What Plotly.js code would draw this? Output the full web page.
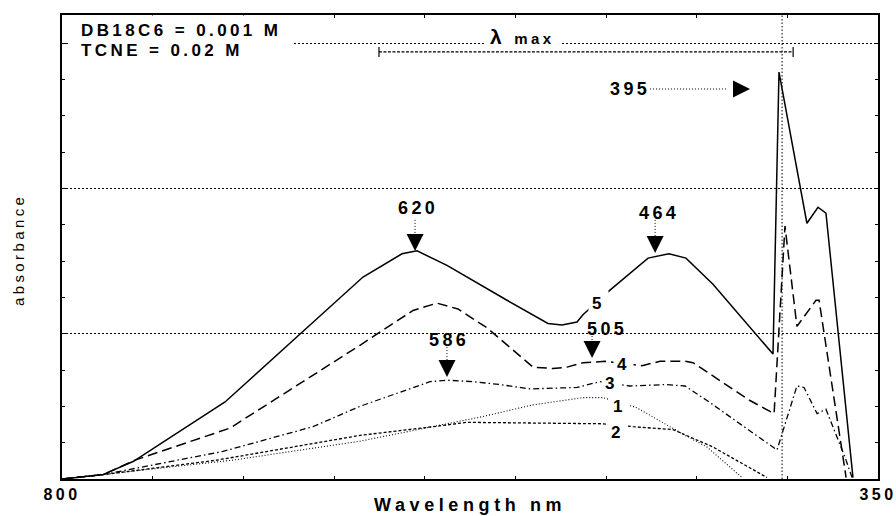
<!DOCTYPE html>
<html>
<head>
<meta charset="utf-8">
<script src="https://cdn.plot.ly/plotly-3.0.1.min.js"></script>
<style>
body{margin:0;background:#fff;}
svg text{letter-spacing:3.4px;}
</style>
</head>
<body>
<div id="chart" style="width:896px;height:516px;"></div>
<script>
// Wavelength (nm) and absorbance for the five spectra
var wl1 = [800, 777.4, 705.7, 635.7, 595.4, 567.8, 540.3, 512.7, 501.6, 482.9, 459.2, 444.3, 425.0];
var ab1 = [0, 0.03, 0.13, 0.26, 0.36, 0.43, 0.51, 0.56, 0.56, 0.49, 0.32, 0.22, 0.01];

var wl2 = [800, 777.4, 714.5, 635.7, 595.4, 576.7, 501.6, 485.1, 463.1, 441.0, 411.2];
var ab2 = [0, 0.03, 0.13, 0.30, 0.36, 0.39, 0.38, 0.36, 0.34, 0.22, 0.01];

var wl3 = [800, 777.4, 711.2, 661.6, 635.7, 597.1, 587.7, 573.3, 558.5, 541.9, 516.0, 503.3, 486.8, 466.4, 456.4, 444.3, 405.7, 394.7, 390.8, 383.6, 378.7, 368.2, 364.3];
var ab3 = [0, 0.03, 0.19, 0.36, 0.50, 0.67, 0.68, 0.67, 0.65, 0.62, 0.63, 0.67, 0.64, 0.65, 0.64, 0.54, 0.20, 0.64, 0.63, 0.45, 0.48, 0.15, 0.01];

var wl4 = [800, 777.4, 759.7, 707.4, 635.7, 606.4, 593.2, 581.6, 565.6, 540.3, 529.3, 521.5, 512.7, 500.5, 480.1, 470.2, 456.4, 452.0, 420.6, 407.3, 401.3, 394.7, 384.2, 382.5, 367.6];
var ab4 = [0, 0.03, 0.13, 0.35, 0.92, 1.16, 1.21, 1.17, 1.04, 0.77, 0.76, 0.77, 0.80, 0.81, 0.78, 0.81, 0.81, 0.80, 0.54, 0.45, 1.74, 1.05, 1.23, 1.23, 0.01];

var wl5 = [800, 777.4, 760.8, 710.1, 634.0, 612.5, 604.2, 587.7, 554.6, 532.0, 524.3, 516.0, 512.7, 497.8, 476.8, 465.3, 455.9, 441.0, 407.9, 404.6, 389.2, 383.1, 378.7, 363.8];
var ab5 = [0, 0.03, 0.12, 0.53, 1.39, 1.55, 1.57, 1.47, 1.23, 1.07, 1.06, 1.08, 1.13, 1.30, 1.52, 1.55, 1.52, 1.34, 0.86, 2.80, 1.76, 1.87, 1.83, 0.01];

var xTickVals = [800, 350];
var xTickText = ['800', '350'];
var curveLabels = ['1', '2', '3', '4', '5'];
var peakLabels = ['620', '464', '586', '505'];

var FONT = 'Liberation Sans, Arial, Helvetica, sans-serif';

function line(x, y, width, dash) {
  return {x: x, y: y, type: 'scatter', mode: 'lines', hoverinfo: 'skip', showlegend: false,
          line: {color: '#000', width: width, dash: dash}};
}
var data = [
  line(wl1, ab1, 1.1, '1px,2px'),
  line(wl2, ab2, 1.3, '3px,2px'),
  line(wl3, ab3, 1.3, '6px,3px,1.5px,3px'),
  line(wl4, ab4, 1.5, '10px,5px'),
  line(wl5, ab5, 1.5, 'solid')
];

// positions of annotation items (label centres, arrow tips)
var curveLabelPos = [[492.3, 0.496], [493.9, 0.317], [496.7, 0.654], [490.1, 0.791], [504.4, 1.211]];
var peakLabelPos = [[603.7, 1.865], [470.8, 1.831], [586.6, 0.957], [499.4, 1.032]];
var peakTips = [[605.3, 1.569], [472.9, 1.555], [587.7, 0.702], [507.7, 0.833]];
var stemTop = [1.783, 1.783, 0.908, 1.005];
var stemBot = [1.670, 1.660, 0.810, 0.930];

var annotations = [];
var shapes = [];

curveLabels.forEach(function (t, i) {
  annotations.push({x: curveLabelPos[i][0], y: curveLabelPos[i][1], xref: 'x', yref: 'y', text: t,
    showarrow: false, bgcolor: '#fff', borderpad: 3,
    font: {family: FONT, size: 17, color: '#000', weight: 'bold'}});
});
peakLabels.forEach(function (t, i) {
  annotations.push({x: peakLabelPos[i][0], y: peakLabelPos[i][1], xref: 'x', yref: 'y', text: t,
    showarrow: false, font: {family: FONT, size: 18, color: '#000', weight: 'bold'}});
  shapes.push({type: 'line', xref: 'x', yref: 'y', x0: peakTips[i][0], x1: peakTips[i][0],
    y0: stemTop[i], y1: stemBot[i], line: {color: '#000', width: 1, dash: '1px,2px'}});
  annotations.push({x: peakTips[i][0], y: peakTips[i][1], xref: 'x', yref: 'y', text: '',
    showarrow: true, arrowhead: 2, arrowsize: 3.4, arrowwidth: 1, arrowcolor: '#000', ax: 0, ay: -10});
});

// 395 label and horizontal arrow
annotations.push({x: 486.8, y: 2.684, xref: 'x', yref: 'y', text: '395', showarrow: false,
  font: {family: FONT, size: 18, color: '#000', weight: 'bold'}});
shapes.push({type: 'line', xref: 'x', yref: 'y', x0: 475.7, x1: 433.3, y0: 2.684, y1: 2.684,
  line: {color: '#000', width: 1, dash: '1px,2px'}});
annotations.push({x: 420.6, y: 2.684, xref: 'x', yref: 'y', text: '', showarrow: true,
  arrowhead: 2, arrowsize: 3.4, arrowwidth: 1, arrowcolor: '#000', ax: -10, ay: 0});

// lambda max marker
shapes.push({type: 'rect', xref: 'x', yref: 'y', x0: 566.7, x1: 525.4, y0: 2.98, y1: 3.021,
  fillcolor: '#fff', line: {width: 0}, layer: 'above'});
annotations.push({x: 546.3, y: 3.042, xref: 'x', yref: 'y', text: 'λ <span style="font-size:15px">max</span>',
  showarrow: false, font: {family: FONT, size: 21, color: '#000', weight: 'bold'}});
shapes.push({type: 'line', xref: 'x', yref: 'y', x0: 625.2, x1: 396.8, y0: 2.939, y1: 2.939,
  line: {color: '#000', width: 1.2, dash: '3px,1.5px'}});
shapes.push({type: 'line', xref: 'x', yref: 'y', x0: 625.2, x1: 625.2, y0: 2.904, y1: 2.973,
  line: {color: '#000', width: 1.2}});
shapes.push({type: 'line', xref: 'x', yref: 'y', x0: 396.8, x1: 396.8, y0: 2.904, y1: 2.973,
  line: {color: '#000', width: 1.2}});
shapes.push({type: 'line', xref: 'x', yref: 'paper', x0: 402.9, x1: 402.9, y0: 0, y1: 1,
  line: {color: '#000', width: 1, dash: '1.5px,2px'}});

// condition box
shapes.push({type: 'rect', xref: 'x', yref: 'y', x0: 796.7, x1: 672.6, y0: 2.83, y1: 3.19,
  fillcolor: '#fff', line: {width: 0}, layer: 'above'});
annotations.push({x: 790.6, y: 3.083, xref: 'x', yref: 'y', xanchor: 'left', text: 'DB18C6 = 0.001 M',
  showarrow: false, font: {family: FONT, size: 17, color: '#000', weight: 'bold'}});
annotations.push({x: 790.6, y: 2.952, xref: 'x', yref: 'y', xanchor: 'left', text: 'TCNE = 0.02 M',
  showarrow: false, font: {family: FONT, size: 17, color: '#000', weight: 'bold'}});

// axis titles
annotations.push({x: 0.5, y: -0.056, xref: 'paper', yref: 'paper', xanchor: 'center', yanchor: 'middle',
  text: '<span style="letter-spacing:4.6px">Wavelength nm</span>',
  showarrow: false, font: {family: FONT, size: 18, color: '#000', weight: 'bold'}});
annotations.push({x: -0.0539, y: 0.4935, xref: 'paper', yref: 'paper', xanchor: 'center', yanchor: 'middle',
  text: 'absorbance', textangle: -90,
  showarrow: false, font: {family: FONT, size: 15, color: '#000'}});

var layout = {
  width: 896, height: 516,
  margin: {l: 62, r: 18, t: 15, b: 37},
  paper_bgcolor: '#fff', plot_bgcolor: '#fff',
  showlegend: false,
  xaxis: {
    range: [800, 350], tickmode: 'array', tickvals: xTickVals, ticktext: xTickText,
    ticklabeloverflow: 'allow',
    showline: true, linewidth: 2, linecolor: '#000', mirror: 'allticks',
    ticks: 'inside', ticklen: 3, tickcolor: '#000', showgrid: false, zeroline: false,
    tickfont: {family: FONT, size: 16, color: '#000', weight: 'bold'},
    minor: {dtick: 50, ticks: 'inside', ticklen: 3, tickcolor: '#000', showgrid: false}
  },
  yaxis: {
    range: [0, 3.193], tickmode: 'array', tickvals: [0, 1, 2, 3], showticklabels: false,
    showline: true, linewidth: 2, linecolor: '#000', mirror: 'allticks',
    ticks: 'inside', ticklen: 4, tickcolor: '#000', zeroline: false,
    showgrid: true, gridcolor: '#000', gridwidth: 1, griddash: '1.5px,2.5px',
    minor: {dtick: 0.25, ticks: 'inside', ticklen: 3, tickcolor: '#000', showgrid: false}
  },
  shapes: shapes,
  annotations: annotations
};

Plotly.newPlot('chart', data, layout, {staticPlot: true, displayModeBar: false});
</script>
</body>
</html>
